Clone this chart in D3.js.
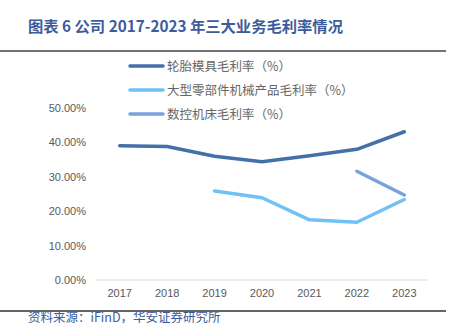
<!DOCTYPE html>
<html><head><meta charset="utf-8">
<script src="https://cdn.jsdelivr.net/npm/d3@7"></script>
<style>body{margin:0;background:#fff;}svg{display:block;}</style>
</head><body>
<script>
const years = ["2017","2018","2019","2020","2021","2022","2023"];
const tireMold = [39.0, 38.8, 36.0, 34.4, 36.1, 38.0, 43.1];
const largeParts = [null, null, 25.9, 23.9, 17.5, 16.8, 23.4];
const cncMachine = [null, null, null, null, null, 31.6, 24.7];
const seriesNames = ["轮胎模具毛利率（%）","大型零部件机械产品毛利率（%）","数控机床毛利率（%）"];
const seriesColors = ["#4470aa","#6fc1f6","#78a2dc"];
const yTicks = [0,10,20,30,40,50];

const W=460,H=326;
const svg=d3.select("body").append("svg").attr("width",W).attr("height",H);
const sans="Liberation Sans, Arial, sans-serif";
const cjk="'Noto Sans CJK SC', sans-serif";

svg.append("text").attr("x",28).attr("y",32).attr("fill","#3c5c9c")
  .attr("font-family","'Noto Sans CJK SC', serif").attr("font-weight","bold").attr("font-size",15.3)
  .text("图表 6 公司 2017-2023 年三大业务毛利率情况");
svg.append("line").attr("x1",0).attr("x2",446).attr("y1",51).attr("y2",51).attr("stroke","#444").attr("stroke-width",1.5);
svg.append("line").attr("x1",0).attr("x2",446).attr("y1",311).attr("y2",311).attr("stroke","#333").attr("stroke-width",1.5);
svg.append("text").attr("x",28).attr("y",322).attr("fill","#3c5c9c")
  .attr("font-family",cjk).attr("font-size",12.5).text("资料来源：iFinD，华安证券研究所");

const x=d3.scaleBand().domain(years).range([96,428]);
const y=d3.scaleLinear().domain([0,50]).range([280,108]);

const g=svg.append("g");
g.append("line").attr("x1",96).attr("x2",428).attr("y1",y(0)).attr("y2",y(0)).attr("stroke","#d9d9d9");
const yAxis=d3.axisLeft(y).tickValues(yTicks).tickSize(0).tickPadding(0).tickFormat(d=>d.toFixed(2)+"%");
const ya=svg.append("g").attr("transform","translate(86,0)").call(yAxis);
ya.select(".domain").remove();
ya.selectAll("text").attr("fill","#595959").attr("font-family",sans).attr("font-size",11);
const xAxis=d3.axisBottom(x).tickSize(0).tickPadding(9);
const xa=svg.append("g").attr("transform","translate(0,280)").call(xAxis);
xa.select(".domain").remove();
xa.selectAll("text").attr("fill","#595959").attr("font-family",sans).attr("font-size",11);

const all=[tireMold,largeParts,cncMachine];
const line=d3.line().defined(d=>d.v!=null).x(d=>x(d.k)+x.bandwidth()/2).y(d=>y(d.v));
all.forEach((s,i)=>{
  const data=years.map((k,j)=>({k,v:s[j]}));
  g.append("path").attr("d",line(data)).attr("fill","none").attr("stroke",seriesColors[i])
   .attr("stroke-width",3.5).attr("stroke-linecap","round").attr("stroke-linejoin","round");
});

const lg=svg.append("g");
seriesNames.forEach((n,i)=>{
  const yy=66+i*24;
  lg.append("line").attr("x1",130).attr("x2",163).attr("y1",yy).attr("y2",yy)
    .attr("stroke",seriesColors[i]).attr("stroke-width",3.5).attr("stroke-linecap","round");
  lg.append("text").attr("x",167).attr("y",yy+4.5).attr("fill","#666")
    .attr("font-family",cjk).attr("font-size",12.5).text(n);
});
</script>
</body></html>
